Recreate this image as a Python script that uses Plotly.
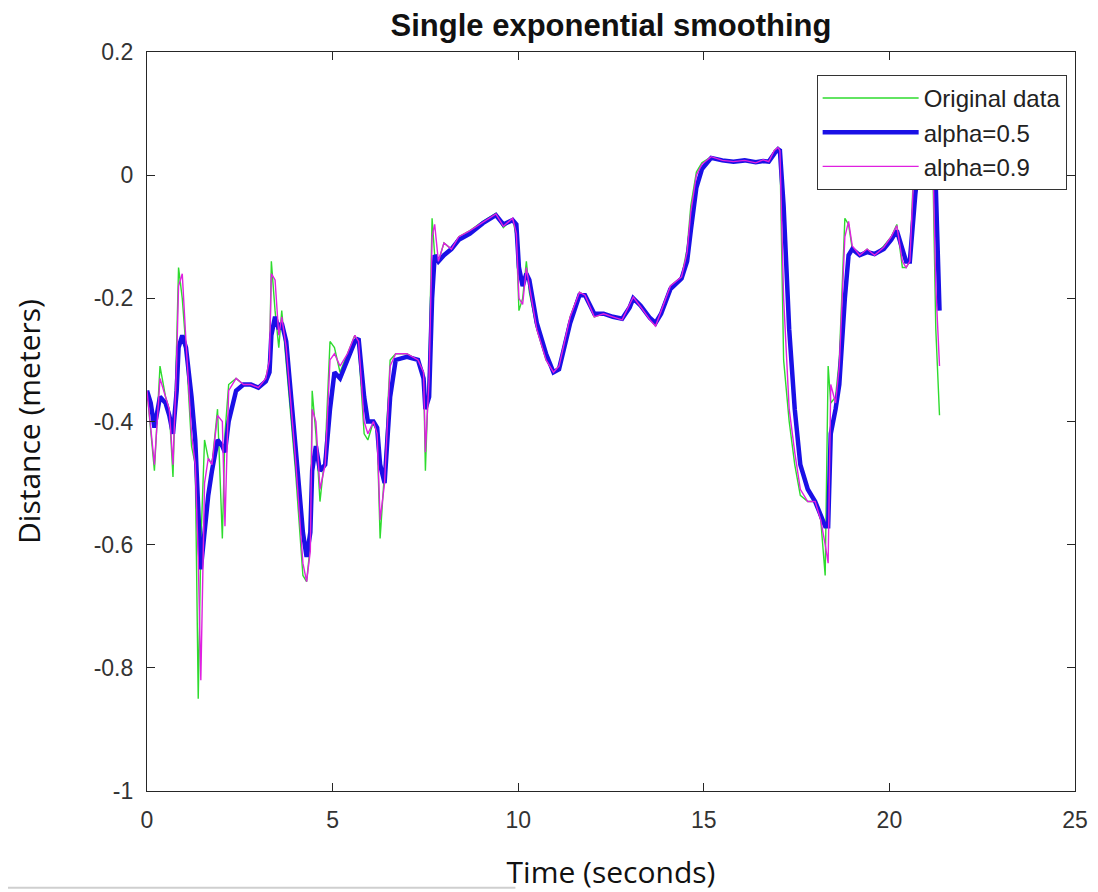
import plotly.graph_objects as go

time_s = [0.0, 0.1, 0.2, 0.35, 0.5, 0.6, 0.7, 0.8, 0.85, 0.95, 1.05, 1.2, 1.3, 1.38, 1.45, 1.55, 1.65, 1.75, 1.9, 2.03, 2.1, 2.2, 2.4, 2.6, 2.8, 3.0, 3.2, 3.3, 3.35, 3.45, 3.55, 3.63, 3.75, 4.0, 4.2, 4.3, 4.4, 4.45, 4.55, 4.66, 4.8, 4.93, 5.05, 5.2, 5.4, 5.6, 5.7, 5.85, 5.95, 6.1, 6.2, 6.28, 6.4, 6.55, 6.7, 7.0, 7.3, 7.45, 7.5, 7.6, 7.68, 7.75, 7.85, 8.0, 8.2, 8.4, 8.7, 9.05, 9.4, 9.6, 9.85, 9.95, 10.02, 10.12, 10.22, 10.3, 10.5, 10.75, 10.95, 11.1, 11.4, 11.65, 11.8, 12.05, 12.3, 12.55, 12.8, 13.0, 13.1, 13.3, 13.55, 13.7, 13.85, 14.1, 14.4, 14.55, 14.65, 14.8, 14.95, 15.2, 15.5, 15.8, 16.1, 16.4, 16.6, 16.75, 16.9, 17.0, 17.05, 17.15, 17.3, 17.45, 17.6, 17.8, 18.0, 18.15, 18.27, 18.35, 18.42, 18.55, 18.65, 18.8, 18.9, 19.0, 19.2, 19.4, 19.6, 19.85, 20.05, 20.2, 20.35, 20.45, 20.55, 20.7, 20.85, 21.0, 21.15, 21.25, 21.35]

original = [-0.35, -0.42, -0.48, -0.31, -0.36, -0.38, -0.49, -0.27, -0.15, -0.20, -0.28, -0.44, -0.47, -0.85, -0.60, -0.43, -0.46, -0.47, -0.38, -0.59, -0.42, -0.34, -0.33, -0.34, -0.34, -0.345, -0.33, -0.30, -0.14, -0.22, -0.28, -0.22, -0.30, -0.48, -0.65, -0.66, -0.60, -0.35, -0.42, -0.53, -0.45, -0.27, -0.28, -0.32, -0.29, -0.26, -0.28, -0.42, -0.43, -0.40, -0.42, -0.59, -0.48, -0.30, -0.29, -0.29, -0.30, -0.32, -0.48, -0.30, -0.07, -0.13, -0.14, -0.11, -0.12, -0.10, -0.09, -0.075, -0.062, -0.085, -0.07, -0.10, -0.22, -0.20, -0.14, -0.19, -0.25, -0.30, -0.32, -0.31, -0.23, -0.19, -0.195, -0.23, -0.225, -0.23, -0.235, -0.21, -0.198, -0.215, -0.235, -0.245, -0.22, -0.18, -0.165, -0.12, -0.05, 0.005, 0.02, 0.03, 0.024, 0.022, 0.024, 0.02, 0.025, 0.022, 0.04, 0.045, 0.04, -0.30, -0.40, -0.47, -0.52, -0.53, -0.53, -0.56, -0.65, -0.31, -0.37, -0.36, -0.30, -0.07, -0.08, -0.12, -0.13, -0.12, -0.13, -0.115, -0.10, -0.08, -0.15, -0.15, -0.14, 0.08, 0.10, 0.10, 0.08, -0.25, -0.39]

alpha_05 = [-0.35, -0.37, -0.41, -0.36, -0.37, -0.39, -0.42, -0.35, -0.28, -0.26, -0.28, -0.36, -0.43, -0.55, -0.64, -0.58, -0.52, -0.48, -0.43, -0.44, -0.45, -0.40, -0.35, -0.34, -0.34, -0.345, -0.335, -0.32, -0.26, -0.23, -0.25, -0.24, -0.27, -0.44, -0.58, -0.62, -0.58, -0.48, -0.44, -0.48, -0.47, -0.38, -0.32, -0.33, -0.30, -0.27, -0.265, -0.36, -0.40, -0.40, -0.41, -0.47, -0.50, -0.36, -0.30, -0.295, -0.30, -0.33, -0.38, -0.36, -0.20, -0.13, -0.14, -0.13, -0.12, -0.105, -0.095, -0.078, -0.065, -0.08, -0.073, -0.08, -0.15, -0.18, -0.16, -0.17, -0.24, -0.29, -0.32, -0.315, -0.24, -0.195, -0.195, -0.225, -0.225, -0.23, -0.233, -0.215, -0.20, -0.212, -0.232, -0.24, -0.225, -0.185, -0.168, -0.14, -0.09, -0.02, 0.01, 0.028, 0.024, 0.022, 0.024, 0.021, 0.023, 0.022, 0.035, 0.042, 0.04, -0.05, -0.25, -0.38, -0.47, -0.51, -0.53, -0.55, -0.57, -0.57, -0.42, -0.38, -0.34, -0.20, -0.13, -0.12, -0.13, -0.125, -0.128, -0.12, -0.105, -0.09, -0.12, -0.14, -0.14, -0.03, 0.05, 0.08, 0.08, -0.02, -0.22]

alpha_09 = [-0.35, -0.41, -0.47, -0.33, -0.36, -0.38, -0.47, -0.30, -0.18, -0.16, -0.27, -0.42, -0.47, -0.62, -0.82, -0.50, -0.46, -0.47, -0.39, -0.40, -0.57, -0.35, -0.33, -0.34, -0.34, -0.345, -0.33, -0.30, -0.16, -0.17, -0.26, -0.23, -0.28, -0.46, -0.63, -0.66, -0.61, -0.38, -0.40, -0.51, -0.47, -0.30, -0.29, -0.31, -0.29, -0.26, -0.27, -0.40, -0.42, -0.40, -0.42, -0.56, -0.50, -0.31, -0.29, -0.29, -0.30, -0.32, -0.45, -0.33, -0.10, -0.08, -0.14, -0.11, -0.12, -0.10, -0.09, -0.076, -0.063, -0.083, -0.07, -0.095, -0.20, -0.21, -0.15, -0.18, -0.25, -0.30, -0.32, -0.31, -0.23, -0.19, -0.195, -0.23, -0.225, -0.23, -0.235, -0.21, -0.198, -0.214, -0.235, -0.245, -0.22, -0.18, -0.165, -0.125, -0.06, 0.0, 0.018, 0.03, 0.024, 0.022, 0.024, 0.02, 0.025, 0.022, 0.04, 0.045, 0.04, -0.20, -0.38, -0.45, -0.51, -0.53, -0.53, -0.56, -0.60, -0.63, -0.34, -0.37, -0.31, -0.10, -0.075, -0.115, -0.13, -0.12, -0.13, -0.117, -0.10, -0.082, -0.14, -0.15, -0.14, 0.06, 0.10, 0.10, 0.08, -0.18, -0.31]

x_ticks = [0, 5, 10, 15, 20, 25]
y_ticks = [-1, -0.8, -0.6, -0.4, -0.2, 0, 0.2]
y_tick_labels = ["-1", "-0.8", "-0.6", "-0.4", "-0.2", "0", "0.2"]

fig = go.Figure()
fig.add_trace(go.Scatter(x=time_s, y=original, mode="lines", name="Original data",
                         line=dict(color="#2edb2e", width=1.4)))
fig.add_trace(go.Scatter(x=time_s, y=alpha_05, mode="lines", name="alpha=0.5",
                         line=dict(color="#1a10e6", width=4.5)))
fig.add_trace(go.Scatter(x=time_s, y=alpha_09, mode="lines", name="alpha=0.9",
                         line=dict(color="#e020e0", width=1.4)))

axis_common = dict(showgrid=False, zeroline=False, showline=True, linecolor="#262626",
                   linewidth=1.2, mirror="ticks", ticks="inside", ticklen=8,
                   tickcolor="#262626", tickwidth=1.2, automargin=False,
                   tickfont=dict(family="Liberation Sans, Arial", size=23, color="#333333"))

fig.update_layout(
    width=1090, height=884,
    paper_bgcolor="white", plot_bgcolor="white",
    margin=dict(l=139, r=23, t=44, b=101),
    title=dict(text="<b>Single exponential smoothing</b>", x=0.5, xanchor="center",
               y=1 - 17 / 884, yanchor="middle", xref="paper",
               font=dict(family="Liberation Sans, Arial", size=31, color="#111111")),
    xaxis=dict(range=[0, 25], tickvals=x_ticks, ticktext=[str(v) for v in x_ticks],
               ticklabelstandoff=8,
               title=dict(text="Time (seconds)", standoff=36,
                          font=dict(family="Open Sans, Noto Sans", size=30, color="#111111")),
               **axis_common),
    yaxis=dict(range=[-1, 0.2], tickvals=y_ticks, ticktext=y_tick_labels,
               ticklabelstandoff=8,
               title=dict(text="Distance (meters)", standoff=44,
                          font=dict(family="Open Sans, Noto Sans", size=30, color="#111111")),
               **axis_common),
    legend=dict(x=0.991, y=0.969, xanchor="right", yanchor="top",
                bgcolor="white", bordercolor="#333333", borderwidth=1,
                font=dict(family="Liberation Sans, Arial", size=24, color="#222222"),
                itemwidth=96, tracegroupgap=0),
    showlegend=True,
    shapes=[dict(type="line", xref="paper", yref="paper", x0=-0.16, x1=0.397,
                 y0=-0.131, y1=-0.131, line=dict(color="#cfcfcf", width=2))],
)

fig.write_html("out.html")
